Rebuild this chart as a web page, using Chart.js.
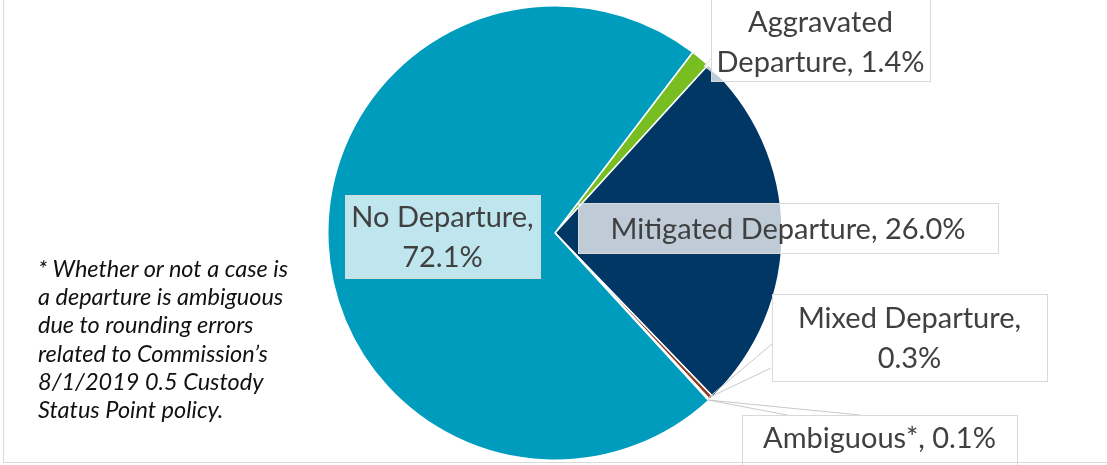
<!DOCTYPE html>
<html>
<head>
<meta charset="utf-8">
<script src="https://cdn.jsdelivr.net/npm/chart.js@4"></script>
<style>
  html, body { margin: 0; padding: 0; background: #fff; }
  #wrap { position: relative; width: 1107px; height: 465px; }
  #frame { position: absolute; left: 3px; top: -2px; width: 1110px; height: 465px; border: 1px solid #d9d9d9; box-sizing: border-box; }
  #note {
    position: absolute; left: 38px; top: 254px; width: 300px; white-space: nowrap;
    font: italic 23.5px Lato, "Open Sans", sans-serif; line-height: 28.2px; color: #111;
  }
</style>
</head>
<body>
<div id="wrap">
  <div id="frame"></div>
  <canvas id="myChart" width="1107" height="465"></canvas>
  <div id="note">* Whether or not a case is<br>a departure is ambiguous<br>due to rounding errors<br>related to Commission’s<br>8/1/2019 0.5 Custody<br>Status Point policy.</div>
</div>
<script>
const categories = ["Aggravated Departure", "Mitigated Departure", "Mixed Departure", "Ambiguous*", "No Departure"];
const shares = [1.4, 26.0, 0.3, 0.1, 72.1];
const colors = ["#78be20", "#003764", "#8e3b20", "#bfc7cc", "#009cbd"];

// label boxes placed by hand like the Excel callouts
const boxes = [
  { x: 711, y: -2, w: 219, h: 83, lines: ["Aggravated", "Departure, 1.4%"], base: 32, fill: "rgba(255,255,255,0.75)" },
  { x: 578, y: 203, w: 420, h: 50, lines: ["Mitigated Departure, 26.0%"], base: 239, fill: "rgba(255,255,255,0.75)" },
  { x: 772, y: 294, w: 275, h: 87, lines: ["Mixed Departure,", "0.3%"], base: 328, fill: "#fff" },
  { x: 742, y: 415, w: 275, h: 52, lines: ["Ambiguous*, 0.1%"], base: 448, fill: "#fff" },
  { x: 345, y: 195, w: 195, h: 83, lines: ["No Departure,", "72.1%"], base: 227, fill: "rgba(255,255,255,0.75)" },
];

const calloutPlugin = {
  id: "callouts",
  afterDatasetsDraw(chart) {
    const c = chart.ctx;
    c.save();
    // leader lines
    c.strokeStyle = "#c8c8c8";
    c.lineWidth = 1;
    [[708, 398, 772, 344], [708, 398, 771, 368], [708, 400, 787, 415], [708, 400, 860, 415]].forEach(([a, b, d, e]) => {
      c.beginPath(); c.moveTo(a, b); c.lineTo(d, e); c.stroke();
    });
    // pointer of the aggravated callout
    c.fillStyle = "rgba(255,255,255,0.75)";
    c.beginPath(); c.moveTo(711.5, 58); c.lineTo(704, 66); c.lineTo(724, 80.5); c.closePath(); c.fill();
    c.strokeStyle = "#d9d9d9";
    c.beginPath(); c.moveTo(711.5, 58); c.lineTo(704, 66); c.lineTo(712, 72); c.stroke();

    boxes.forEach((b) => {
      c.fillStyle = b.fill;
      c.fillRect(b.x, b.y, b.w, b.h);
      c.strokeStyle = "#d9d9d9";
      c.strokeRect(b.x + 0.5, b.y + 0.5, b.w, b.h);
      c.fillStyle = "#404040";
      c.font = "29px Lato, 'Open Sans', sans-serif";
      c.textAlign = "center";
      c.textBaseline = "alphabetic";
      b.lines.forEach((t, i) => c.fillText(t, b.x + b.w / 2, b.base + i * 39.5));
    });
    c.restore();
  },
};

new Chart(document.getElementById("myChart").getContext("2d"), {
  type: "pie",
  data: {
    labels: categories,
    datasets: [{ data: shares, backgroundColor: colors, borderColor: "#fff", borderWidth: 1.5 }],
  },
  options: {
    responsive: false,
    animation: false,
    rotation: 37.3,
    layout: { padding: { left: 327, right: 324, top: 5, bottom: 4 } },
    plugins: { legend: { display: false }, tooltip: { enabled: false } },
  },
  plugins: [calloutPlugin],
});
</script>
</body>
</html>
